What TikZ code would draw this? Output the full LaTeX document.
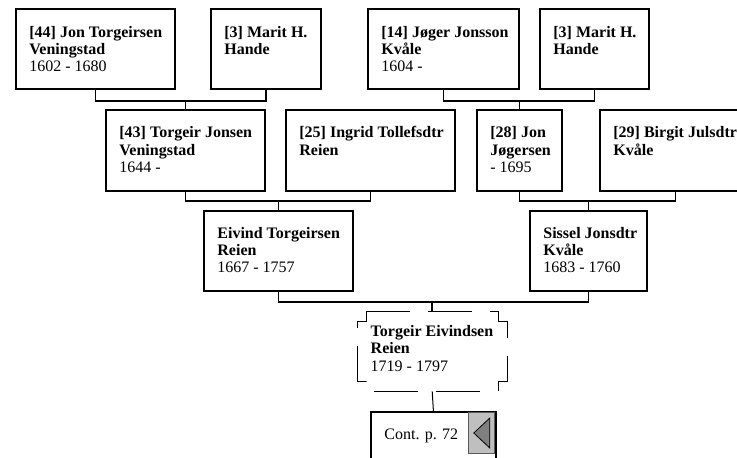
\documentclass[tikz,border=0pt]{standalone}
\usepackage{fontspec}
\setmainfont{Liberation Serif}
\newcommand\pcell[4]{\parbox[c][#2][t]{#1}{\raggedright\leftskip=13.5pt\rule{0pt}{#3}#4\par}}
\begin{document}
\begin{tikzpicture}[x=1pt,y=-1pt,
  font=\fontsize{16}{17.2}\selectfont,
  person/.style={draw, line width=1.8pt, inner sep=0pt, anchor=north west},
  link/.style={line width=1.8pt},
  thinlink/.style={line width=1pt},
  torline/.style={line width=1pt, dash pattern=on 44pt off 18pt},
  contbtn/.style={fill=gray!50, draw=gray!70!black, line width=0.8pt},
  conttri/.style={fill=gray, draw=black, line width=0.8pt}]
\useasboundingbox (0,0) rectangle (737,458);
\clip (0,0) rectangle (737,458);

% generation 1
\node[person] (b44) at (15,8) {\pcell{159pt}{80pt}{28.5pt}{\textbf{[44] Jon Torgeirsen}\\\textbf{Veningstad}\\1602 - 1680}};
\node[person] (b3a) at (210,8) {\pcell{110pt}{80pt}{28.5pt}{\textbf{[3] Marit H.}\\\textbf{Hande}}};
\node[person] (b14) at (367,8) {\pcell{151pt}{80pt}{28.5pt}{\textbf{[14] Jøger Jonsson}\\\textbf{Kvåle}\\1604 -}};
\node[person] (b3b) at (539,8) {\pcell{109pt}{80pt}{28.5pt}{\textbf{[3] Marit H.}\\\textbf{Hande}}};

% generation 2
\node[person] (b43) at (105,109) {\pcell{159pt}{81pt}{28pt}{\textbf{[43] Torgeir Jonsen}\\\textbf{Veningstad}\\1644 -}};
\node[person] (b25) at (285,109) {\pcell{169pt}{81pt}{28pt}{\textbf{[25] Ingrid Tollefsdtr}\\\textbf{Reien}}};
\node[person] (b28) at (476,109) {\pcell{85pt}{81pt}{28pt}{\textbf{[28] Jon}\\\textbf{Jøgersen}\\- 1695}};
\node[person] (b29) at (599,109) {\pcell{151pt}{81pt}{28pt}{\textbf{[29] Birgit Julsdtr}\\\textbf{Kvåle}}};

% generation 3
\node[person] (eiv) at (203,210) {\pcell{149pt}{80pt}{27.5pt}{\textbf{Eivind Torgeirsen}\\\textbf{Reien}\\1667 - 1757}};
\node[person] (sis) at (529,210) {\pcell{117pt}{80pt}{27.5pt}{\textbf{Sissel Jonsdtr}\\\textbf{Kvåle}\\1683 - 1760}};

% root person
\node[inner sep=0pt, anchor=north west] (tor) at (357,311) {\pcell{150pt}{80pt}{25.5pt}{\textbf{Torgeir Eivindsen}\\\textbf{Reien}\\1719 - 1797}};
\draw[torline] (tor.north west) ++(9,0) -- ++(132,0) -- ++(0,10) -- ++(9,0) -- ++(0,60)
  -- ++(-9,0) -- ++(0,10) -- ++(-132,0) -- ++(0,-10) -- ++(-9,0) -- ++(0,-60) -- ++(9,0) -- cycle;

% continuation box
\node[person] (cont) at (370,411) {\pcell{125pt}{62pt}{28pt}{Cont. p. 72}};
\draw[contbtn] (cont.north east) ++(-28,1) rectangle ++(26,41);
\draw[conttri] (cont.north east) ++(-23,22) -- ++(16,-15) -- ++(0,30) -- cycle;

% connectors
\draw[link] (b44.south) -- ++(0,11) coordinate (bar1) -| (b3a.south);
\draw[link] (b43.north) -- (b43.north |- bar1);
\draw[link] (b14.south) -- ++(0,11) coordinate (bar2) -| (b3b.south);
\draw[link] (b28.north) -- (b28.north |- bar2);
\draw[link] (b43.south) -- ++(0,9) coordinate (bar3) -| (b25.south);
\draw[link] (eiv.north) -- (eiv.north |- bar3);
\draw[link] (b28.south) -- ++(0,9) coordinate (bar4) -| (b29.south);
\draw[link] (sis.north) -- (sis.north |- bar4);
\draw[link] (eiv.south) -- ++(0,10) coordinate (bar5) -| (sis.south);
\draw[link] (tor.north) -- (tor.north |- bar5);
\draw[thinlink] (tor.south) -- (cont.north);
\end{tikzpicture}
\end{document}
